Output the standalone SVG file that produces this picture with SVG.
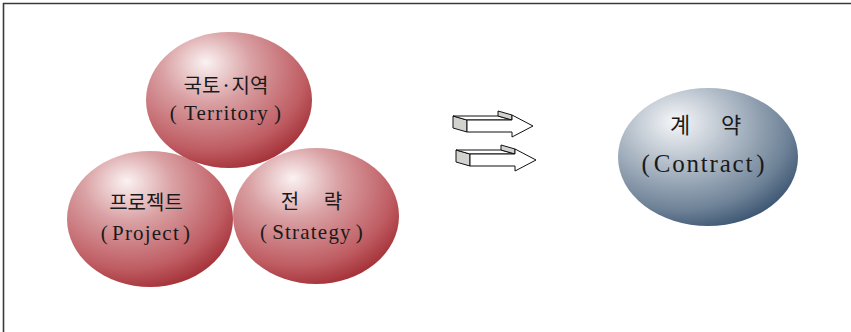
<svg xmlns="http://www.w3.org/2000/svg" width="851" height="332" viewBox="0 0 851 332">
  <style>
    .lat { font-family: "Liberation Serif", "Times New Roman", serif; fill: #1a1a1a; text-anchor: middle; }
    .kor { font-family: "Noto Sans CJK KR", "Noto Sans", sans-serif; fill: #1a1a1a; text-anchor: middle; }
    .face { fill: #ffffff; stroke: #111; stroke-width: 1; stroke-linejoin: miter; }
    .side { fill: #d2d3cf; stroke: #111; stroke-width: 1; stroke-linejoin: miter; }
  </style>
  <defs>
    <radialGradient id="redBall" cx="0.38" cy="0.3" r="0.78" fx="0.36" fy="0.22">
      <stop offset="0" stop-color="#fbf2f2"/>
      <stop offset="0.35" stop-color="#d9a0a3"/>
      <stop offset="0.75" stop-color="#bf5d63"/>
      <stop offset="1" stop-color="#9d252c"/>
    </radialGradient>
    <radialGradient id="blueBall" cx="0.36" cy="0.3" r="0.8" fx="0.32" fy="0.24">
      <stop offset="0" stop-color="#f6f7f9"/>
      <stop offset="0.35" stop-color="#b7c1cc"/>
      <stop offset="0.75" stop-color="#6e8297"/>
      <stop offset="1" stop-color="#2c4766"/>
    </radialGradient>
    <g id="arrow3d">
      <path class="side" d="M453,116 L467,120 L467,132 L453,128 Z"/>
      <path class="face" d="M453,116 H498 L512,120 H467 Z"/>
      <path class="side" d="M498,111 L512,115 L512,120 L498,116 Z"/>
      <path class="face" d="M467,120 H512 V115 L533,126 L512,137 V132 H467 Z"/>
    </g>
  </defs>

  <rect width="851" height="332" fill="#ffffff"/>
  <!-- frame: top and left rules -->
  <path d="M3.5,332 V3.5 H851" fill="none" stroke="#3a3a3a" stroke-width="1.6"/>

  <g id="project">
    <ellipse cx="150" cy="219" rx="83" ry="68" fill="url(#redBall)"/>
    <text class="kor" x="146" y="210" font-size="20">프로젝트</text>
    <text class="lat" x="146" y="240" font-size="21" letter-spacing="1.2">(<tspan dx="3">Project</tspan><tspan dx="3">)</tspan></text>
  </g>

  <g id="strategy">
    <ellipse cx="316" cy="216" rx="83" ry="68" fill="url(#redBall)"/>
    <text class="kor" y="209" font-size="20"><tspan x="290">전</tspan><tspan x="333">략</tspan></text>
    <text class="lat" x="312" y="239" font-size="21" letter-spacing="1.2">(<tspan dx="4">Strategy</tspan><tspan dx="4">)</tspan></text>
  </g>

  <g id="territory">
    <ellipse cx="229" cy="100" rx="83" ry="68" fill="url(#redBall)"/>
    <text class="kor" x="226" y="93" font-size="20">국토·지역</text>
    <text class="lat" x="226" y="120" font-size="21" letter-spacing="1.2">(<tspan dx="6">Territory</tspan><tspan dx="5">)</tspan></text>
  </g>

  <g id="connectors">
    <use href="#arrow3d"/>
    <use href="#arrow3d" transform="translate(3,34)"/>
  </g>

  <g id="contract">
    <ellipse cx="708" cy="157" rx="90" ry="69" fill="url(#blueBall)"/>
    <text class="kor" y="133" font-size="22"><tspan x="680">계</tspan><tspan x="731">약</tspan></text>
    <text class="lat" x="704" y="172" font-size="25" letter-spacing="1.8">(<tspan dx="2">Contract</tspan><tspan dx="2">)</tspan></text>
  </g>
</svg>
